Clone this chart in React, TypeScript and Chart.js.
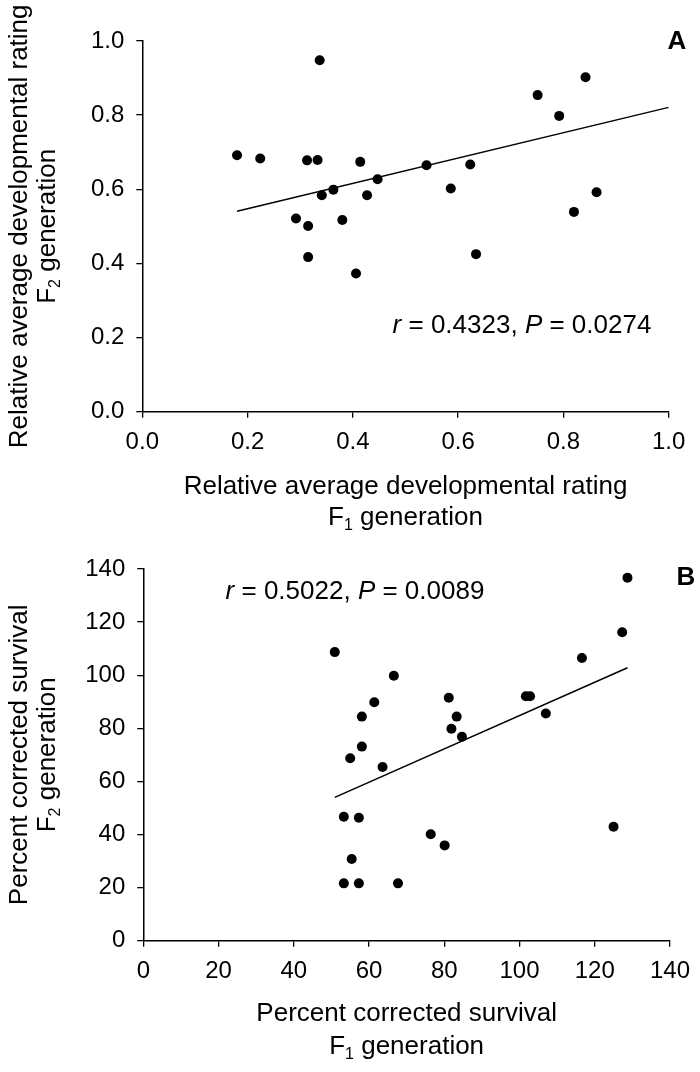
import React, { useEffect, useRef } from "react";
import { Chart, registerables } from "chart.js";

Chart.register(...registerables);

const FONT = "'Liberation Sans', Arial, sans-serif";

// Panel A data
const devF1 = [0.180, 0.224, 0.313, 0.333, 0.337, 0.414, 0.447, 0.363, 0.341, 0.427, 0.292, 0.315, 0.380, 0.315, 0.406, 0.540, 0.623, 0.586, 0.634, 0.751, 0.842, 0.792, 0.863, 0.820];
const devF2 = [0.692, 0.683, 0.678, 0.679, 0.948, 0.674, 0.627, 0.599, 0.584, 0.584, 0.521, 0.501, 0.517, 0.417, 0.373, 0.665, 0.667, 0.602, 0.425, 0.854, 0.902, 0.798, 0.592, 0.539];
const devFitX = [0.180, 1.0];
const devFitY = [0.541, 0.821];

// Panel B data
const survF1 = [50.9, 66.6, 61.4, 58.1, 81.2, 83.3, 81.9, 84.7, 58.1, 55.0, 63.6, 53.3, 57.3, 76.4, 80.1, 55.4, 53.3, 57.3, 67.7, 128.7, 127.3, 116.6, 101.7, 102.8, 107.0, 125.0];
const survF2 = [108.7, 99.8, 89.8, 84.4, 91.5, 84.4, 79.8, 76.8, 73.1, 68.7, 65.4, 46.7, 46.3, 40.1, 35.9, 30.8, 21.6, 21.6, 21.6, 136.7, 116.2, 106.5, 92.1, 92.1, 85.6, 42.9];
const survFitX = [50.9, 128.7];
const survFitY = [54.0, 102.8];

type Part = { t: string; italic?: boolean };

interface PanelSpec {
  xs: number[];
  ys: number[];
  fitX: number[];
  fitY: number[];
  min: number;
  max: number;
  step: number;
  decimals: number;
  title1: string;
  annot: Part[];
  annotX: number;
  annotY: number;
  letter: string;
  letterX: number;
  letterY: number;
  padTop: number;
  padRight: number;
  yWidth: number;
  xHeight: number;
  xTitleY1: number;
  xTitleY2: number;
}

const TITLE_SIZE = 26;
const TICK_SIZE = 24;

function drawSubLine(ctx: CanvasRenderingContext2D, cx: number, cy: number, main: string, sub: string, rest: string, size: number) {
  const subSize = Math.round(size * 0.62);
  ctx.font = `${size}px ${FONT}`;
  const wMain = ctx.measureText(main).width;
  const wRest = ctx.measureText(rest).width;
  ctx.font = `${subSize}px ${FONT}`;
  const wSub = ctx.measureText(sub).width;
  const total = wMain + wSub + wRest;
  let x = cx - total / 2;
  ctx.textAlign = "left";
  ctx.textBaseline = "middle";
  ctx.font = `${size}px ${FONT}`;
  ctx.fillText(main, x, cy);
  x += wMain;
  ctx.font = `${subSize}px ${FONT}`;
  ctx.fillText(sub, x, cy + size * 0.3);
  x += wSub;
  ctx.font = `${size}px ${FONT}`;
  ctx.fillText(rest, x, cy);
}

function makePlugin(spec: PanelSpec, yTitle: string) {
  return {
    id: "panelText" + spec.letter,
    afterDraw(chart: any) {
      const ctx: CanvasRenderingContext2D = chart.ctx;
      const area = chart.chartArea;
      const cx = (area.left + area.right) / 2;
      const cy = (area.top + area.bottom) / 2;
      ctx.save();
      ctx.fillStyle = "#000";
      // x title
      ctx.font = `${TITLE_SIZE}px ${FONT}`;
      ctx.textAlign = "center";
      ctx.textBaseline = "middle";
      ctx.fillText(spec.title1, cx, spec.xTitleY1);
      drawSubLine(ctx, cx, spec.xTitleY2, "F", "1", " generation", TITLE_SIZE);
      // y title
      ctx.save();
      ctx.translate(20, cy);
      ctx.rotate(-Math.PI / 2);
      ctx.font = `${TITLE_SIZE}px ${FONT}`;
      ctx.textAlign = "center";
      ctx.textBaseline = "middle";
      ctx.fillText(yTitle, 0, 0);
      ctx.restore();
      ctx.save();
      ctx.translate(48, cy);
      ctx.rotate(-Math.PI / 2);
      drawSubLine(ctx, 0, 0, "F", "2", " generation", TITLE_SIZE);
      ctx.restore();
      // annotation
      let total = 0;
      const fonts = spec.annot.map((p) => `${p.italic ? "italic " : ""}${TITLE_SIZE}px ${FONT}`);
      spec.annot.forEach((p, i) => {
        ctx.font = fonts[i];
        total += ctx.measureText(p.t).width;
      });
      let x = spec.annotX - total / 2;
      ctx.textAlign = "left";
      ctx.textBaseline = "middle";
      spec.annot.forEach((p, i) => {
        ctx.font = fonts[i];
        ctx.fillText(p.t, x, spec.annotY);
        x += ctx.measureText(p.t).width;
      });
      // letter
      ctx.font = `bold ${TITLE_SIZE}px ${FONT}`;
      ctx.textAlign = "center";
      ctx.fillText(spec.letter, spec.letterX, spec.letterY);
      ctx.restore();
    },
  };
}

function Panel({ spec, yTitle, height }: { spec: PanelSpec; yTitle: string; height: number }) {
  const ref = useRef<HTMLCanvasElement | null>(null);
  useEffect(() => {
    if (!ref.current) return;
    const pts = spec.xs.map((x, i) => ({ x, y: spec.ys[i] }));
    const fit = spec.fitX.map((x, i) => ({ x, y: spec.fitY[i] }));
    const axisCommon = {
      type: "linear" as const,
      min: spec.min,
      max: spec.max,
      grid: { display: true, drawOnChartArea: false, drawTicks: true, tickLength: 6, color: "#000", lineWidth: 1.3 },
      border: { display: true, color: "#000", width: 1.5 },
      ticks: {
        stepSize: spec.step,
        color: "#000",
        font: { family: FONT, size: TICK_SIZE },
        callback: (v: any) => Number(v).toFixed(spec.decimals),
      },
    };
    const chart = new Chart(ref.current, {
      type: "scatter",
      data: {
        datasets: [
          {
            type: "scatter",
            data: pts,
            backgroundColor: "#000",
            borderColor: "#000",
            pointRadius: 5,
            pointBorderWidth: 0,
          },
          {
            type: "line",
            data: fit,
            borderColor: "#000",
            borderWidth: 1.5,
            pointRadius: 0,
            fill: false,
          } as any,
        ],
      },
      options: {
        animation: false,
        responsive: false,
        events: [],
        layout: { padding: { top: spec.padTop, right: spec.padRight, left: 0, bottom: 0 } },
        plugins: { legend: { display: false }, tooltip: { enabled: false } },
        scales: {
          x: {
            ...axisCommon,
            ticks: { ...axisCommon.ticks, padding: 10, maxRotation: 0 },
            afterFit: (s: any) => {
              s.height = spec.xHeight;
            },
          },
          y: {
            ...axisCommon,
            ticks: { ...axisCommon.ticks, padding: 12 },
            afterFit: (s: any) => {
              s.width = spec.yWidth;
            },
          },
        },
      } as any,
      plugins: [makePlugin(spec, yTitle)],
    });
    return () => chart.destroy();
  }, []);
  return <canvas ref={ref} width={700} height={height} style={{ display: "block", width: 700, height }} />;
}

const specA: PanelSpec = {
  xs: devF1,
  ys: devF2,
  fitX: devFitX,
  fitY: devFitY,
  min: 0,
  max: 1,
  step: 0.2,
  decimals: 1,
  title1: "Relative average developmental rating",
  annot: [{ t: "r", italic: true }, { t: " = 0.4323, " }, { t: "P", italic: true }, { t: " = 0.0274" }],
  annotX: 522,
  annotY: 326,
  letter: "A",
  letterX: 677,
  letterY: 42,
  padTop: 41,
  padRight: 31.3,
  yWidth: 142.3,
  xHeight: 536 - 411.7,
  xTitleY1: 487,
  xTitleY2: 518,
};

const specB: PanelSpec = {
  xs: survF1,
  ys: survF2,
  fitX: survFitX,
  fitY: survFitY,
  min: 0,
  max: 140,
  step: 20,
  decimals: 0,
  title1: "Percent corrected survival",
  annot: [{ t: "r", italic: true }, { t: " = 0.5022, " }, { t: "P", italic: true }, { t: " = 0.0089" }],
  annotX: 355,
  annotY: 56,
  letter: "B",
  letterX: 686,
  letterY: 42,
  padTop: 33,
  padRight: 30,
  yWidth: 143.3,
  xHeight: 536 - 404.7,
  xTitleY1: 478,
  xTitleY2: 511,
};

export default function App() {
  return (
    <div style={{ position: "absolute", left: 0, top: 0, width: 700, height: 1072, background: "#fff" }}>
      <Panel spec={specA} yTitle="Relative average developmental rating" height={536} />
      <Panel spec={specB} yTitle="Percent corrected survival" height={536} />
    </div>
  );
}
